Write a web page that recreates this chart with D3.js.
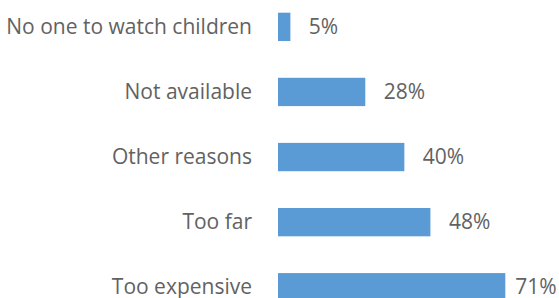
<!DOCTYPE html>
<html>
<head>
<meta charset="utf-8">
<script src="https://cdn.jsdelivr.net/npm/d3@7"></script>
<style>
  html, body { margin: 0; padding: 0; background: #fff; }
  svg { display: block; }
</style>
</head>
<body>
<svg id="chart" width="559" height="298"></svg>
<script>
const categories = ["No one to watch children", "Not available", "Other reasons", "Too far", "Too expensive"];
const values = [5, 28, 40, 48, 71];
const valueLabels = ["5%", "28%", "40%", "48%", "71%"];

const W = 559, H = 298;
const svg = d3.select("#chart");
const font = "'Open Sans', sans-serif";
const textColor = "#626262";
const barColor = "#5B9BD5";
const fs = "21px";

const x = d3.scaleLinear().domain([1.2, 71]).range([278, 505.3]);
const y = d3.scaleBand().domain(categories).range([0, 314.1]).paddingInner(0.565).paddingOuter(0.195);

svg.selectAll("rect.bar").data(categories).enter().append("rect")
  .attr("class", "bar")
  .attr("x", x(1.2))
  .attr("y", d => y(d))
  .attr("width", (d, i) => x(values[i]) - x(1.2))
  .attr("height", y.bandwidth())
  .attr("fill", barColor);

svg.selectAll("text.cat").data(categories).enter().append("text")
  .attr("class", "cat")
  .attr("x", 252)
  .attr("y", d => y(d) + y.bandwidth() / 2 + 7)
  .attr("text-anchor", "end")
  .attr("font-family", font)
  .attr("font-size", fs)
  .attr("fill", textColor)
  .text(d => d);

const vl = svg.selectAll("text.val").data(categories).enter().append("text")
  .attr("class", "val")
  .attr("y", d => y(d) + y.bandwidth() / 2 + 7)
  .attr("font-family", font)
  .attr("font-size", fs)
  .attr("fill", textColor)
  .text((d, i) => valueLabels[i]);
vl.each(function(d, i) {
  const w = this.getComputedTextLength();
  const px = Math.min(x(values[i]) + 18.5, W - 2.5 - w);
  d3.select(this).attr("x", px);
});
</script>
</body>
</html>
